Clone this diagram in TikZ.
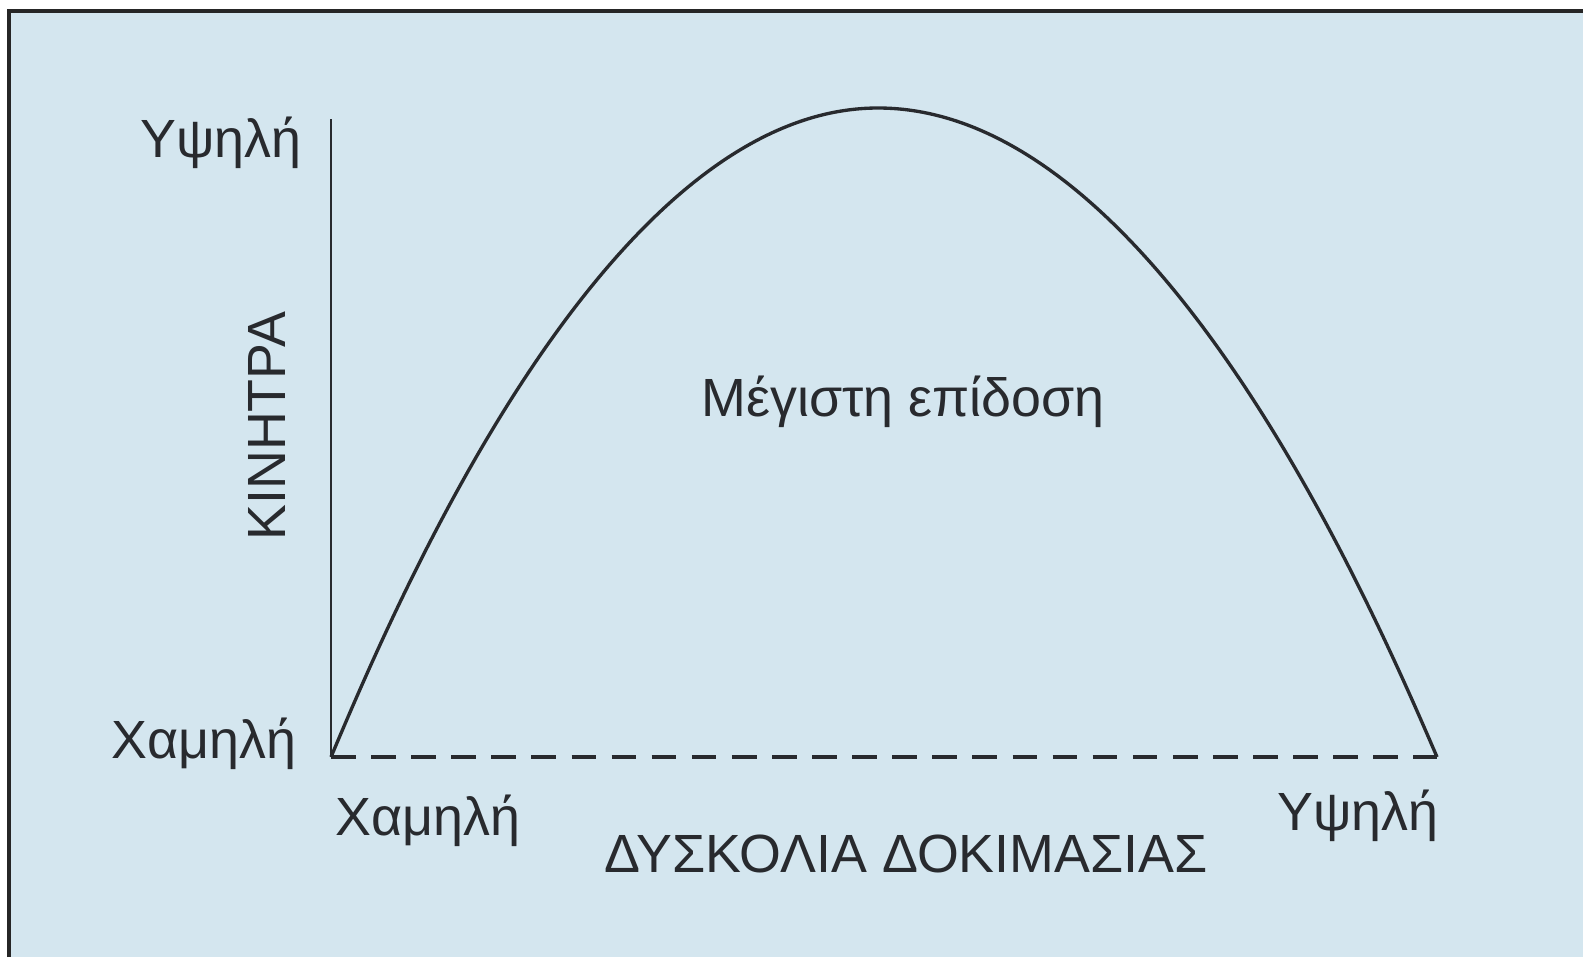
\documentclass[tikz,border=0pt]{standalone}
\usepackage{fontspec}
\setmainfont{Liberation Sans}
\usepackage{xcolor}
\usepackage{tikz}
\usetikzlibrary{positioning}
\definecolor{paperblue}{RGB}{212,230,239}
\definecolor{inkgray}{RGB}{40,42,46}
\tikzset{
  lbl/.style    = {font=\fontsize{15.3}{18}\selectfont, text=inkgray, inner sep=0pt},
  axisline/.style = {line width=0.8pt, draw=inkgray},
  hump/.style   = {line width=0.95pt, draw=inkgray},
  baseline/.style = {line width=1.1pt, draw=inkgray, dash pattern=on 7pt off 4.4pt},
}

\begin{document}
\begin{tikzpicture}[x=0.01cm, y=-0.01cm]
  \useasboundingbox (0,0) rectangle (1583,957);
  % page background and scan edge
  \fill[paperblue] (9,11) rectangle (1583,957);
  \draw[line width=1pt, draw=black!85] (9,957) -- (9,11) -- (1583,11);
  % axes
  \coordinate (origin) at (331,757);
  \coordinate (ytop) at (331,119);
  \coordinate (xend) at (1437,757);
  \coordinate (top) at (878,108);
  \draw[axisline] (ytop) -- (origin);
  \draw[baseline] (origin) -- (xend);
  % performance curve
  \draw[hump] (origin) parabola bend (top) (xend);
  % labels
  \node[lbl, anchor=base east] (yhigh) at (302,157) {Υψηλή};
  \node[lbl, anchor=base east] (ylow) at (297,758) {Χαμηλή};
  \node[lbl, anchor=base, rotate=90] (ytitle) at (285,426) {ΚΙΝΗΤΡΑ};
  \node[lbl, anchor=base west] (xlow) at (335,835) {Χαμηλή};
  \node[lbl, anchor=base east] (xhigh) at (1439,830) {Υψηλή};
  \node[lbl, anchor=base] (xtitle) at (906,872) {ΔΥΣΚΟΛΙΑ ΔΟΚΙΜΑΣΙΑΣ};
  \node[lbl, anchor=base] (peak) at (903,416) {Μέγιστη επίδοση};
\end{tikzpicture}
\end{document}
